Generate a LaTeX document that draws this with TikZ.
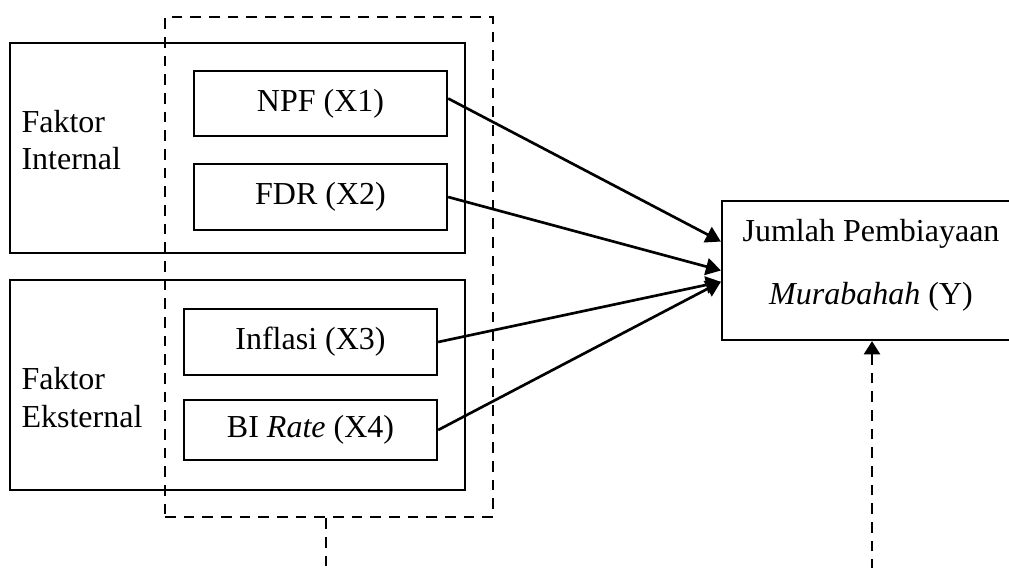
\documentclass[tikz,border=0pt]{standalone}
\usepackage{fontspec}
\setmainfont{Liberation Serif}
\usetikzlibrary{arrows.meta,calc}
\begin{document}
\begin{tikzpicture}[x=0.375pt,y=-0.375pt,
  every node/.style={font=\fontsize{12}{13.5}\selectfont},
  frame/.style={draw,line width=0.85pt,inner sep=0pt},
  varbox/.style={frame,minimum width=94.9pt},
  dashframe/.style={draw,line width=1pt,dash pattern=on 4pt off 3pt,inner sep=0pt},
  lbl/.style={anchor=base west,inner sep=0pt},
  ylbl/.style={anchor=base,inner sep=0pt},
  conn/.style={line width=1pt,-{Triangle[length=5.6pt,width=6.4pt]}},
  dconn/.style={line width=1pt,dash pattern=on 4pt off 3pt}]
\useasboundingbox (0,0) rectangle (1009,567);
\clip (0,0) rectangle (1009,567);
% group boxes
\node[frame,minimum width=170.6pt,minimum height=78.75pt] (int) at (237.5,148) {};
\node[frame,minimum width=170.6pt,minimum height=78.75pt] (ext) at (237.5,385) {};
\node[lbl] (intl1) at (21,133) {Faktor};
\node[lbl] (intl2) at (21,169) {Internal};
\node[lbl] (extl1) at (21,389) {Faktor};
\node[lbl] (extl2) at (21,427) {Eksternal};
% dashed frame
\node[dashframe,minimum width=123pt,minimum height=187.5pt] (db) at (329,267) {};
% variables
\node[varbox,minimum height=24.4pt] (npf) at (320.5,103.5) {NPF (X1)};
\node[varbox,minimum height=24.75pt] (fdr) at (320.5,197) {FDR (X2)};
\node[varbox,minimum height=24.75pt] (inf) at (310.5,342) {Inflasi (X3)};
\node[varbox,minimum height=22.5pt] (bi) at (310.5,430) {BI \textit{Rate} (X4)};
% dependent
\node[frame,minimum width=108.75pt,minimum height=52.1pt] (Y) at (867,270.5) {};
\node[ylbl] (yl1) at (871,241) {Jumlah Pembiayaan};
\node[ylbl] (yl2) at (871,304) {\textit{Murabahah} (Y)};
% tips
\coordinate (t1) at ($(Y.north west)!0.295!(Y.south west)$);
\coordinate (t3) at ($(Y.north west)!0.58!(Y.south west)$);
\coordinate (yb) at (872,570);
\coordinate (dbb) at (326,570);
% connectors
\draw[conn] ($(npf.east)+(0,-5)$) -- (t1);
\draw[conn] (fdr.east) -- (Y.west);
\draw[conn] (inf.east) -- (t3);
\draw[conn] (bi.east) -- (t3);
\draw[dconn] (dbb |- db.south) -- (dbb);
\draw[dconn,-{Triangle[length=5pt,width=6pt]}] (yb) -- (yb |- Y.south);
\end{tikzpicture}
\end{document}
